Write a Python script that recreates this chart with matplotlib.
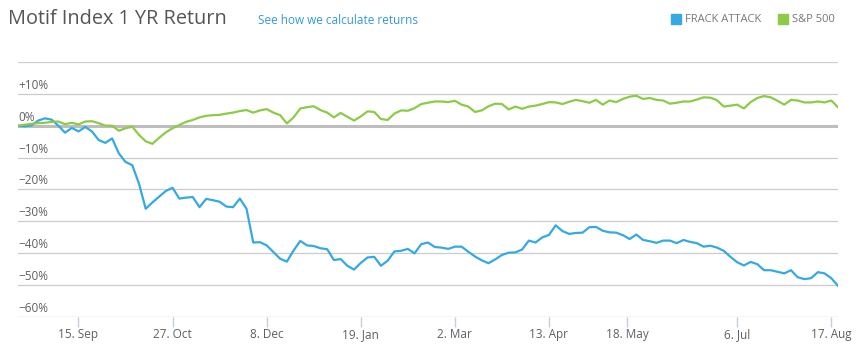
import numpy as np
import pandas as pd
import matplotlib
matplotlib.use('Agg')
from matplotlib import pyplot as plt
import matplotlib.transforms as mtransforms

### dados (um ponto a cada 3 dias)
start_date = '2014-08-19'
step_days = 3

frack_attack = [
    0.0, -0.2, 0.1, 1.6, 2.3, 1.9, 0.0, -2.2, -0.7, -1.8,
    -0.4, -1.8, -4.5, -5.4, -4.0, -8.7, -11.4, -12.4, -18.2, -26.1,
    -24.1, -22.3, -20.5, -19.5, -22.9, -22.6, -22.4, -25.6, -23.0, -23.4,
    -23.9, -25.4, -25.6, -22.9, -26.1, -36.7, -36.6, -37.6, -39.7, -41.8,
    -42.7, -39.2, -36.2, -37.6, -37.8, -38.5, -38.8, -42.2, -41.9, -44.0,
    -45.2, -43.1, -41.4, -41.2, -44.0, -42.4, -39.5, -39.3, -38.7, -40.1,
    -37.2, -36.7, -38.1, -38.3, -38.7, -38.0, -38.0, -39.6, -41.1, -42.3,
    -43.2, -42.0, -40.6, -39.9, -39.8, -38.9, -36.1, -36.7, -35.1, -34.3,
    -31.3, -33.1, -34.0, -33.7, -33.6, -31.9, -31.8, -33.0, -33.5, -33.6,
    -34.4, -35.6, -34.2, -35.9, -36.3, -36.8, -36.1, -36.1, -36.9, -35.9,
    -36.5, -36.9, -38.0, -37.7, -38.3, -39.3, -41.2, -42.9, -43.9, -42.8,
    -43.5, -45.4, -45.4, -45.9, -46.4, -45.4, -47.6, -48.2, -47.9, -46.0,
    -46.4, -47.9, -50.3,
]

sp500 = [
    0.0, 0.3, 0.6, 0.8, 0.9, 1.2, 1.3, 0.5, 0.9, 0.4,
    1.3, 1.4, 0.8, 0.0, 0.0, -1.6, -0.8, -0.3, -2.9, -4.9,
    -5.7, -3.8, -2.1, -0.8, 0.2, 1.2, 1.8, 2.6, 3.1, 3.3,
    3.4, 3.8, 4.1, 4.6, 4.9, 4.1, 4.8, 5.2, 4.1, 3.3,
    0.7, 2.6, 5.4, 5.8, 6.1, 4.9, 4.1, 2.6, 4.0, 2.8,
    1.6, 2.9, 4.5, 4.3, 2.1, 1.8, 3.8, 4.8, 4.7, 5.5,
    6.8, 7.2, 7.6, 7.6, 7.4, 7.8, 6.6, 6.0, 4.3, 4.8,
    6.1, 6.9, 6.8, 5.1, 6.0, 5.3, 6.0, 6.3, 6.8, 7.4,
    7.3, 6.8, 7.5, 8.1, 7.7, 7.2, 8.1, 6.6, 7.9, 7.4,
    8.4, 9.1, 9.4, 8.4, 8.7, 8.1, 7.9, 6.9, 7.2, 7.6,
    7.6, 8.2, 8.9, 8.8, 8.0, 6.0, 6.3, 6.6, 5.4, 7.4,
    8.7, 9.3, 8.9, 7.8, 6.6, 8.1, 7.9, 7.3, 7.3, 7.6,
    7.3, 7.9, 5.8,
]

y_ticks = [20, 10, 0, -10, -20, -30, -40, -50, -60]
y_labels = ['', '+10%', '0%', '\u221210%', '\u221220%', '\u221230%', '\u221240%', '\u221250%', '\u221260%']

tick_dates = ['2014-09-15', '2014-10-27', '2014-12-08', '2015-01-19', '2015-03-02',
              '2015-04-13', '2015-05-18', '2015-07-06', '2015-08-17']
tick_labels = ['15. Sep', '27. Oct', '8. Dec', '19. Jan', '2. Mar',
               '13. Apr', '18. May', '6. Jul', '17. Aug']

series_names = ['FRACK ATTACK', 'S&P 500']
series_colors = ['#35a9e1', '#8bcb45']

### figura
plt.rcParams['font.family'] = ['Open Sans', 'DejaVu Sans']
fig = plt.figure(figsize=(8.62, 3.6), dpi=100)
ax = fig.add_axes([18 / 862, 1 - 316.7 / 360, 820 / 862, (316.7 - 62) / 360])

dates = pd.date_range(start_date, periods=len(frack_attack), freq=f'{step_days}D')

for y in y_ticks:
    if y == 0:
        ax.axhline(y, color='#bdbdbd', lw=2.2, zorder=1)
    elif y == -60:
        ax.axhline(y, color='#c0d0e0', lw=1.0, zorder=1)
    else:
        ax.axhline(y, color='#cccccc', lw=0.9, zorder=1)

ax.plot(dates, frack_attack, color=series_colors[0], lw=1.6, zorder=3)
ax.plot(dates, sp500, color=series_colors[1], lw=1.6, zorder=3)

ax.set_xlim(dates[0], dates[-1])
ax.set_ylim(-60, 20)

# rótulos do eixo y acima das linhas de grade
trans = mtransforms.blended_transform_factory(ax.transAxes, ax.transData)
for y, lab in zip(y_ticks, y_labels):
    ax.text(0.0, y + 0.6, lab, transform=trans, ha='left', va='bottom',
            fontsize=8.5, color='#606060')

ax.set_yticks([])
ax.set_xticks(pd.to_datetime(tick_dates))
ax.set_xticklabels(tick_labels, fontsize=8.5, color='#606060')
ax.tick_params(axis='x', length=7, width=1, color='#c0d0e0', pad=1)
for s in ax.spines.values():
    s.set_visible(False)

# título e legenda
fig.text(8 / 862, 1 - 19 / 360, 'Motif Index 1 YR Return', fontsize=14.3,
         color='#555555', ha='left', va='center')
fig.text(258 / 862, 1 - 20 / 360, 'See how we calculate returns', fontsize=8.5,
         color='#3399dd', ha='left', va='center')

legend_x = [671, 778]
for lx, name, col in zip(legend_x, series_names, series_colors):
    fig.patches.append(plt.Rectangle((lx / 862, 1 - 24 / 360), 10 / 862, 10 / 360,
                                     transform=fig.transFigure, color=col))
    fig.text((lx + 14) / 862, 1 - 19.5 / 360, name, fontsize=8, color='#777777',
             ha='left', va='center')

plt.savefig('out.png', dpi=100)
